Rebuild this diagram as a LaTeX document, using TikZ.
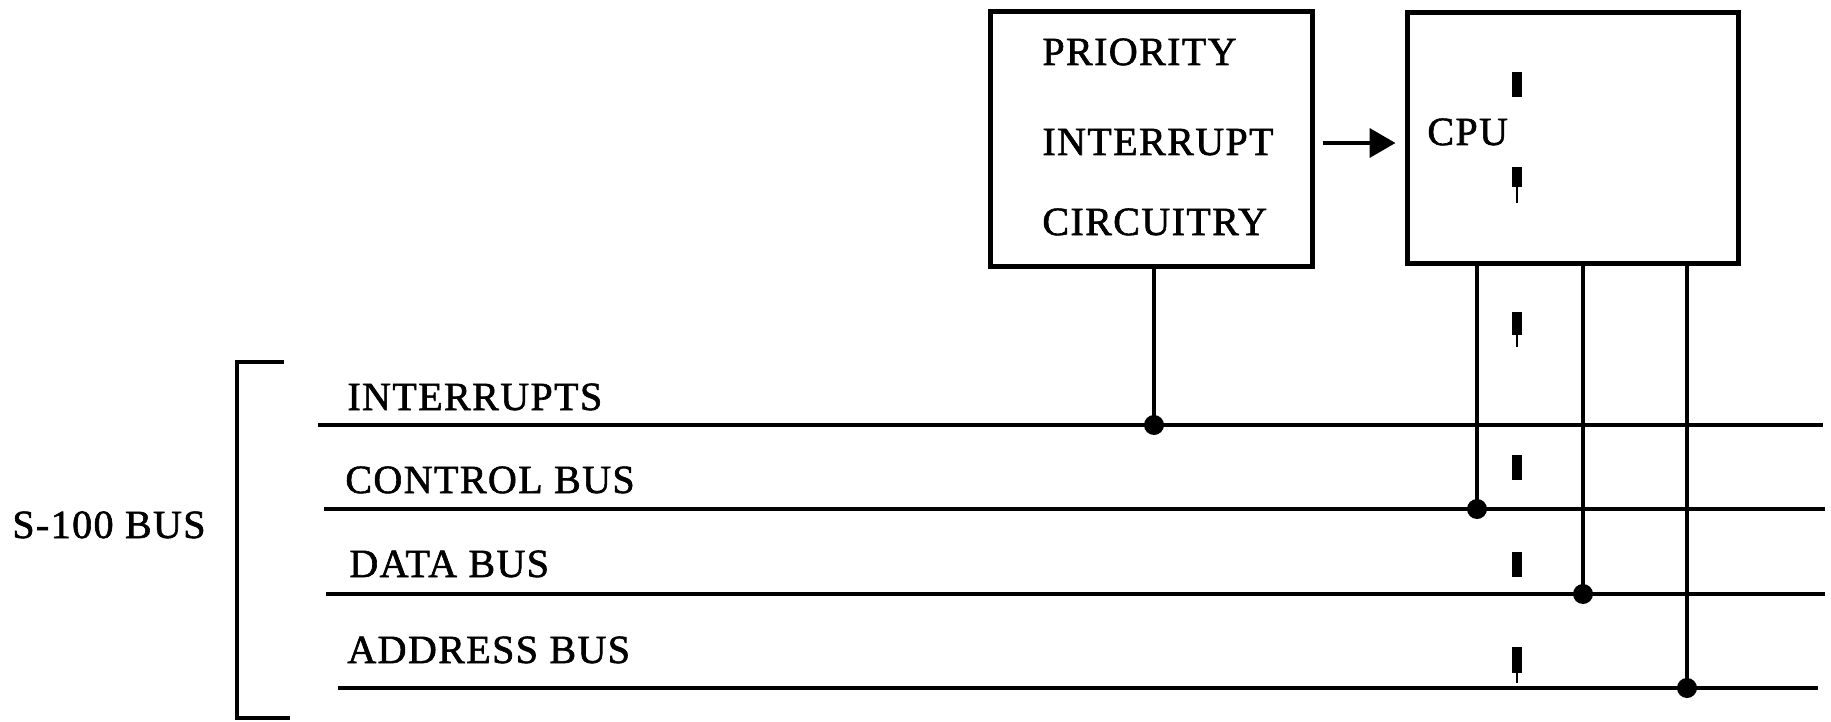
\documentclass[tikz,border=0pt]{standalone}
\usepackage{fontspec}
\setmainfont{Liberation Serif}[LetterSpace=3.5,FakeBold=1.5]
\usetikzlibrary{arrows.meta,calc}
\begin{document}
\begin{tikzpicture}[x=0.5pt,y=-0.5pt,
  lbl/.style={anchor=base west,inner sep=0pt,font=\fontsize{20}{24}\selectfont},
  blk/.style={draw,line width=2.5pt,inner sep=0pt},
  bus/.style={line width=1.75pt},
  tap/.style={line width=2.25pt},
  dotc/.style={circle,fill,inner sep=0pt,minimum size=10pt},
  markseg/.style={line width=5pt},
  marktail/.style={line width=1pt},
  brk/.style={line width=2.25pt}]
\useasboundingbox (0,0) rectangle (1831,722);
% boxes
\node[blk,minimum width=161pt,minimum height=127pt] (pb) at (1151,139) {};
\node[blk,minimum width=165.5pt,minimum height=125pt] (cpu) at (1572.5,138) {};
% box texts
\node[lbl] (t1) at (1042,65) {PRIORITY};
\node[lbl] (t2) at (1042,155) {INTERRUPT};
\node[lbl] (t3) at (1042,235) {CIRCUITRY};
\node[lbl] (tc) at (1427,145) {CPU};
% arrow
\draw[line width=2pt,-{Triangle[length=13pt,width=14.5pt]},shorten <=4pt,shorten >=4.5pt] (pb.east |- 0,143) -- (cpu.west |- 0,143);
% bus lines
\coordinate (iL) at (318,425); \coordinate (iR) at (1823,425);
\coordinate (cL) at (324,509); \coordinate (cR) at (1825,509);
\coordinate (dL) at (326,594); \coordinate (dR) at (1825,594);
\coordinate (aL) at (338,688); \coordinate (aR) at (1818,688);
\draw[bus] (iL) -- (iR);
\draw[bus] (cL) -- (cR);
\draw[bus] (dL) -- (dR);
\draw[bus] (aL) -- (aR);
% bus labels
\node[lbl] (li) at (347,410) {INTERRUPTS};
\node[lbl] (lc) at (345,493) {CONTROL BUS};
\node[lbl] (ld) at (349,577) {DATA BUS};
\node[lbl] (la) at (347,663) {ADDRESS BUS};
\node[lbl] (ls) at (12,538) {S-100 BUS};
% bracket
\coordinate (bt) at (284,362); \coordinate (bb) at (290,718);
\draw[brk] (bt) -- (237,362) -- (237,718) -- (bb);
% taps
\node[dotc] (dI) at (1154,425) {};
\node[dotc] (dC) at (1477,509) {};
\node[dotc] (dD) at (1583,594) {};
\node[dotc] (dA) at (1687,688) {};
\draw[tap] (pb.south -| dI) -- (dI.center);
\draw[tap] (cpu.south -| dC) -- (dC.center);
\draw[tap] (cpu.south -| dD) -- (dD.center);
\draw[tap] (cpu.south -| dA) -- (dA.center);
% break marks
\draw[markseg] (1517,72) -- (1517,97);
\draw[markseg] (1517,167) -- (1517,187);
\draw[marktail] (1517,187) -- (1517,203);
\draw[markseg] (1517,312) -- (1517,335);
\draw[marktail] (1517,335) -- (1517,347);
\draw[markseg] (1517,455) -- (1517,480);
\draw[markseg] (1517,552) -- (1517,577);
\draw[markseg] (1517,647) -- (1517,673);
\draw[marktail] (1517,673) -- (1517,683);
\end{tikzpicture}
\end{document}
